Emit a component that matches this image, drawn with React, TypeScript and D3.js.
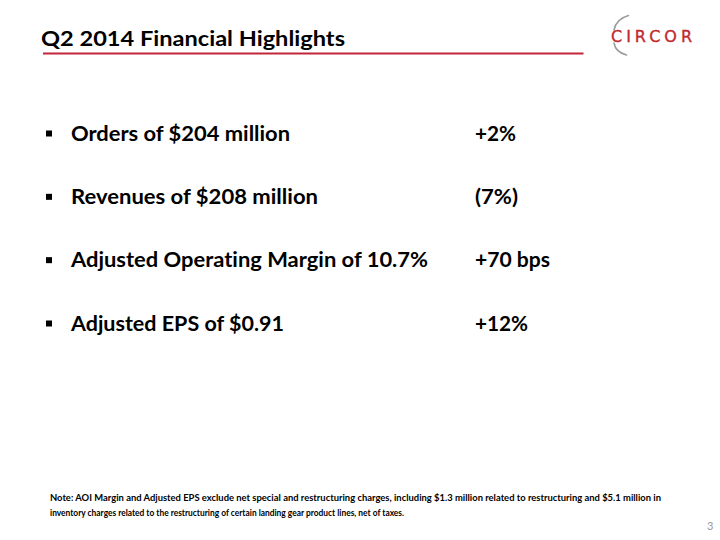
import React from "react";
import * as d3 from "d3";

// ---- content ----
const titleText = "Q2 2014 Financial Highlights";
const bulletLabels = [
  "Orders of $204 million",
  "Revenues of $208 million",
  "Adjusted Operating Margin of 10.7%",
  "Adjusted EPS of $0.91",
];
const changeLabels = ["+2%", "(7%)", "+70 bps", "+12%"];
const noteLines = [
  "Note:  AOI Margin and Adjusted EPS exclude net special and restructuring charges, including $1.3 million related to restructuring and $5.1 million in",
  "inventory charges related to the restructuring of certain landing gear product lines, net of taxes.",
];
const logoText = "CIRCOR";
const pageNumber = "3";

// ---- layout (measured extents of the reference text) ----
const W = 720;
const H = 540;
const labelWidths = [219, 247, 357, 213];
const changeWidths = [41, 43, 75, 53];
const noteWidths = [611, 354];

const FONT = "Lato, 'Open Sans', sans-serif";
const RED = "#C3253A";
const noLig = { fontVariantLigatures: "none" as const };

export default function App() {
  const rowY = d3
    .scalePoint<number>()
    .domain(d3.range(bulletLabels.length))
    .range([140.5, 330.5]);
  const noteY = d3
    .scalePoint<number>()
    .domain(d3.range(noteLines.length))
    .range([500.5, 515.5]);

  const topArc = d3.path();
  topArc.moveTo(614, 30);
  topArc.quadraticCurveTo(616, 19, 628.5, 15.5);
  const botArc = d3.path();
  botArc.moveTo(614, 43);
  botArc.quadraticCurveTo(615.5, 52, 626.5, 55);

  return (
    <svg
      width={W}
      height={H}
      viewBox={`0 0 ${W} ${H}`}
      style={{ position: "absolute", left: 0, top: 0, background: "#fff" }}
    >
      <rect x={0} y={0} width={W} height={H} fill="#fff" />
      {/* title */}
      <text
        x={41}
        y={46}
        fontFamily={FONT}
        fontWeight={700}
        fontSize={21.5}
        fill="#000"
        textLength={304}
        lengthAdjust="spacingAndGlyphs"
        style={noLig}
      >
        {titleText}
      </text>
      <line x1={43} x2={583.5} y1={53.5} y2={53.5} stroke={RED} strokeWidth={2} />

      {/* logo */}
      <path d={topArc.toString()} fill="none" stroke="#9c9c9c" strokeWidth={1.6} strokeLinecap="round" />
      <path d={botArc.toString()} fill="none" stroke="#9c9c9c" strokeWidth={1.6} strokeLinecap="round" />
      <text
        x={611}
        y={42}
        fontFamily="'DejaVu Sans', sans-serif"
        fontSize={16}
        fill="#C0282D"
        stroke="#C0282D"
        strokeWidth={0.35}
        textLength={81}
        lengthAdjust="spacing"
      >
        {logoText}
      </text>

      {/* bullets */}
      {bulletLabels.map((label, i) => {
        const y = rowY(i) as number;
        return (
          <g key={label}>
            <rect x={46} y={y - 10} width={6} height={6} fill="#000" />
            <text
              x={71}
              y={y}
              fontFamily={FONT}
              fontWeight={700}
              fontSize={21}
              fill="#000"
              textLength={labelWidths[i]}
              lengthAdjust="spacingAndGlyphs"
              style={noLig}
            >
              {label}
            </text>
            <text
              x={475}
              y={y}
              fontFamily={FONT}
              fontWeight={700}
              fontSize={21}
              fill="#000"
              textLength={changeWidths[i]}
              lengthAdjust="spacingAndGlyphs"
              style={noLig}
            >
              {changeLabels[i]}
            </text>
          </g>
        );
      })}

      {/* note */}
      {noteLines.map((line, i) => (
        <text
          key={i}
          x={50}
          y={noteY(i) as number}
          fontFamily={FONT}
          fontWeight={700}
          fontSize={10}
          fill="#000"
          textLength={noteWidths[i]}
          lengthAdjust="spacingAndGlyphs"
          style={noLig}
        >
          {line}
        </text>
      ))}

      <text x={707} y={530} fontFamily={FONT} fontSize={11} fill="#999">
        {pageNumber}
      </text>
    </svg>
  );
}
